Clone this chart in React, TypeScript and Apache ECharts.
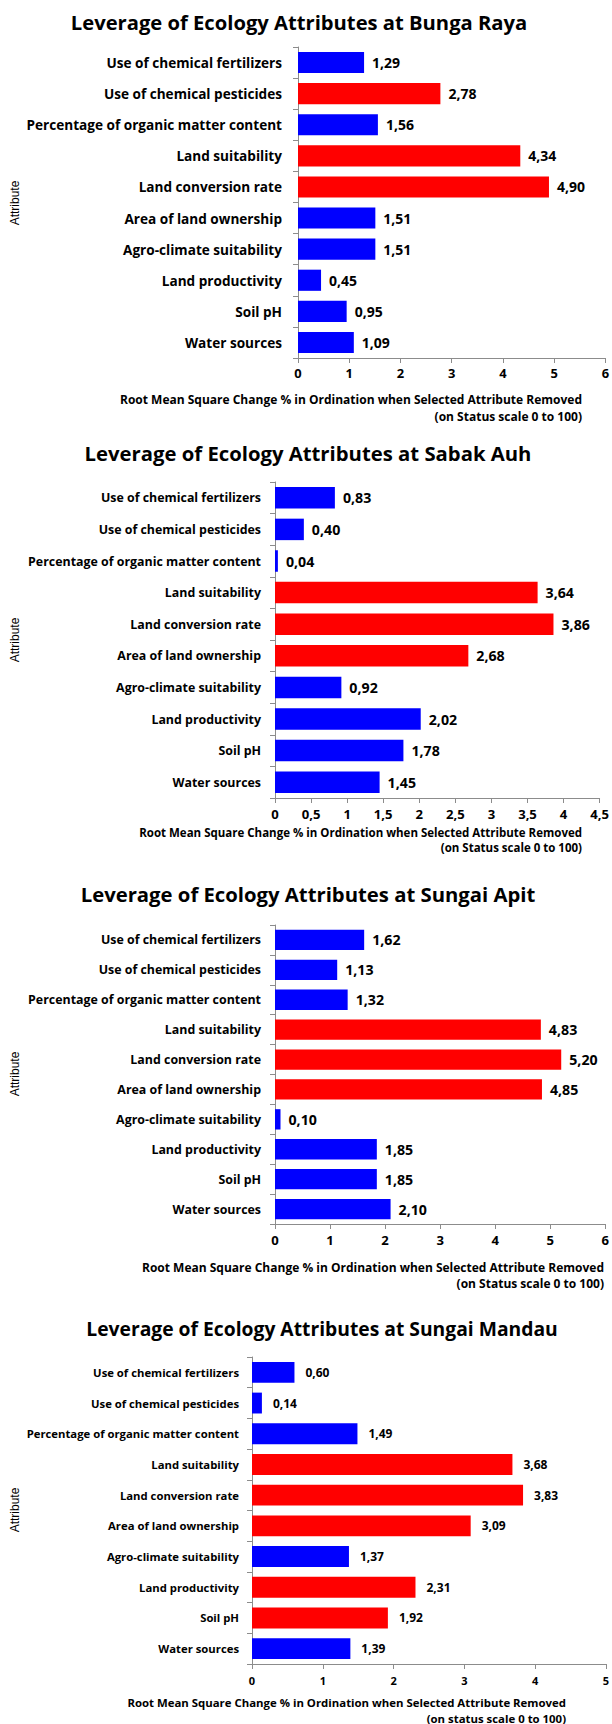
import React, { useEffect, useRef } from "react";
import * as echarts from "echarts";

const categories = [
  "Use of chemical fertilizers",
  "Use of chemical pesticides",
  "Percentage of organic matter content",
  "Land suitability",
  "Land conversion rate",
  "Area of land ownership",
  "Agro-climate suitability",
  "Land productivity",
  "Soil pH",
  "Water sources",
];

const siteNames = ["Bunga Raya", "Sabak Auh", "Sungai Apit", "Sungai Mandau"];

const bungaRaya = [1.29, 2.78, 1.56, 4.34, 4.9, 1.51, 1.51, 0.45, 0.95, 1.09];
const sabakAuh = [0.83, 0.4, 0.04, 3.64, 3.86, 2.68, 0.92, 2.02, 1.78, 1.45];
const sungaiApit = [1.62, 1.13, 1.32, 4.83, 5.2, 4.85, 0.1, 1.85, 1.85, 2.1];
const sungaiMandau = [0.6, 0.14, 1.49, 3.68, 3.83, 3.09, 1.37, 2.31, 1.92, 1.39];

// categories drawn in red for each site
const bungaRayaRed = ["Use of chemical pesticides", "Land suitability", "Land conversion rate"];
const sabakAuhRed = ["Land suitability", "Land conversion rate", "Area of land ownership"];
const sungaiApitRed = ["Land suitability", "Land conversion rate", "Area of land ownership"];
const sungaiMandauRed = [
  "Land suitability",
  "Land conversion rate",
  "Area of land ownership",
  "Land productivity",
  "Soil pH",
];

const xMaxes = [6, 4.5, 6, 5];
const xIntervals = [1, 0.5, 1, 1];

const xNameLine1 = "Root Mean Square Change % in Ordination when Selected Attribute Removed";
const xNameLine2 = [
  "(on Status scale 0 to 100)",
  "(on Status scale 0 to 100)",
  "(on Status scale 0 to 100)",
  "(on status scale 0 to 100)",
];
const yName = "Attribute";

const seriesValues = [bungaRaya, sabakAuh, sungaiApit, sungaiMandau];
const redLists = [bungaRayaRed, sabakAuhRed, sungaiApitRed, sungaiMandauRed];

// layout (page pixels) and target text widths used to size the fonts
const panels = [
  { left: 298, top: 47, width: 310, height: 311, titleX: 299, titleY: 22, titleW: 457, catW: 255, catMargin: 16, valW: 28, valDist: 8, tickMargin: 8, xnW: 463, xnRight: 582, xn1: 399, xn2: 416, attrY: 203 },
  { left: 275, top: 482, width: 328, height: 316, titleX: 308, titleY: 453, titleW: 448, catW: 234, catMargin: 14, valW: 28.5, valDist: 8, tickMargin: 9, xnW: 441, xnRight: 582, xn1: 832, xn2: 847, attrY: 640 },
  { left: 275, top: 925, width: 333, height: 299, titleX: 308, titleY: 894, titleW: 455, catW: 234, catMargin: 14, valW: 28.5, valDist: 8, tickMargin: 9, xnW: 463, xnRight: 604, xn1: 1267, xn2: 1283, attrY: 1074 },
  { left: 252, top: 1357, width: 356, height: 307, titleX: 322, titleY: 1328, titleW: 471, catW: 212, catMargin: 13, valW: 24, valDist: 11, tickMargin: 11, xnW: 440, xnRight: 566, xn1: 1702, xn2: 1718, attrY: 1510 },
];

const FAMILY = "'Open Sans'";
const FONT = "'Open Sans', Lato, sans-serif";
const AXIS_GRAY = "#8c8c8c";
const BLUE = "#0000ff";
const RED = "#ff0000";

const comma = (v: number, d: number) => v.toFixed(d).replace(".", ",");

let measureCtx: CanvasRenderingContext2D | null = null;
function fitSize(text: string, target: number, weight = "bold") {
  if (!measureCtx) measureCtx = document.createElement("canvas").getContext("2d");
  if (!measureCtx) return 13;
  measureCtx.font = `${weight} 100px ${FAMILY}, sans-serif`;
  const w = measureCtx.measureText(text).width;
  return w > 0 ? Math.round((100 * target) / w * 10) / 10 : 13;
}

function txt(x: number, y: number, text: string, size: number, weight: string, align: string, family = FONT, rotation = 0) {
  return {
    type: "text",
    x,
    y,
    rotation,
    silent: true,
    style: {
      text,
      fontSize: size,
      fontWeight: weight,
      fontFamily: family,
      fill: "#000",
      align,
      verticalAlign: "middle",
      textAlign: align,
      textVerticalAlign: "middle",
    },
  };
}

export default function App() {
  const ref = useRef<HTMLDivElement>(null);
  useEffect(() => {
    document.body.style.margin = "0";
    const chart = echarts.init(ref.current!, null, { renderer: "svg" });
    const grid: any[] = [];
    const xAxis: any[] = [];
    const yAxis: any[] = [];
    const series: any[] = [];
    const graphic: any[] = [];
    panels.forEach((p, i) => {
      const title = "Leverage of Ecology Attributes at " + siteNames[i];
      const titleSize = fitSize(title, p.titleW);
      const catSize = fitSize(categories[2], p.catW);
      const valSize = fitSize(comma(seriesValues[i][0], 2), p.valW);
      const xnSize = fitSize(xNameLine1, p.xnW);
      const tickSize = Math.round(valSize * 0.92 * 10) / 10;
      grid.push({ left: p.left, top: p.top, width: p.width, height: p.height, containLabel: false });
      xAxis.push({
        type: "value",
        gridIndex: i,
        min: 0,
        max: xMaxes[i],
        interval: xIntervals[i],
        splitLine: { show: false },
        axisLine: { show: true, lineStyle: { color: AXIS_GRAY, width: 1 } },
        axisTick: { show: true, length: 5, lineStyle: { color: AXIS_GRAY } },
        axisLabel: {
          margin: p.tickMargin,
          fontSize: tickSize,
          fontWeight: "bold",
          fontFamily: FONT,
          color: "#000",
          showMaxLabel: true,
          formatter: (v: number) => String(v).replace(".", ","),
        },
      });
      yAxis.push({
        type: "category",
        gridIndex: i,
        inverse: true,
        data: categories,
        axisLine: { show: true, lineStyle: { color: AXIS_GRAY, width: 1 } },
        axisTick: { show: true, length: 5, lineStyle: { color: AXIS_GRAY } },
        axisLabel: {
          margin: p.catMargin,
          fontSize: catSize,
          fontWeight: "bold",
          fontFamily: FONT,
          color: "#000",
          interval: 0,
        },
      });
      const reds = redLists[i];
      series.push({
        type: "bar",
        xAxisIndex: i,
        yAxisIndex: i,
        barCategoryGap: "32%",
        data: seriesValues[i].map((v, k) => ({
          value: v,
          itemStyle: { color: reds.includes(categories[k]) ? RED : BLUE },
        })),
        label: {
          show: true,
          position: "right",
          distance: p.valDist,
          fontSize: valSize,
          fontWeight: "bold",
          fontFamily: FONT,
          color: "#000",
          formatter: (prm: any) => comma(prm.value, 2),
        },
      });
      graphic.push(txt(p.titleX, p.titleY, title, titleSize, "bold", "center"));
      graphic.push(txt(p.xnRight, p.xn1, xNameLine1, xnSize, "bold", "right"));
      graphic.push(txt(p.xnRight, p.xn2, xNameLine2[i], xnSize, "bold", "right"));
      graphic.push(txt(15, p.attrY, yName, 12, "normal", "center", "'Liberation Sans', Arial, sans-serif", Math.PI / 2));
    });
    chart.setOption({
      animation: false,
      backgroundColor: "#fff",
      grid,
      xAxis,
      yAxis,
      series,
      graphic,
    });
    return () => chart.dispose();
  }, []);
  return <div ref={ref} style={{ width: 612, height: 1724 }} />;
}
